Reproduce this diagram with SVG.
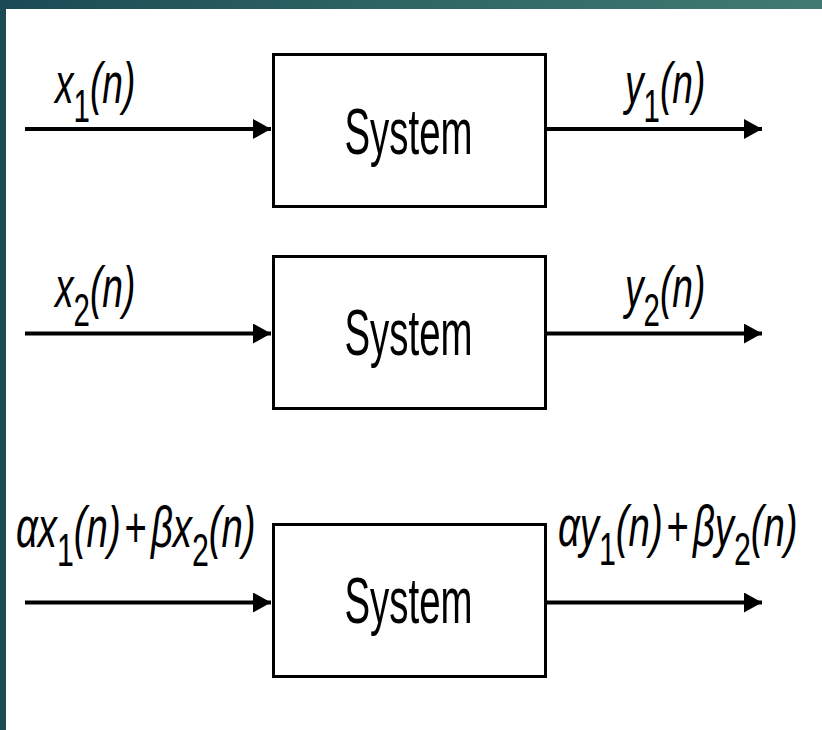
<svg xmlns="http://www.w3.org/2000/svg" width="822" height="730" viewBox="0 0 822 730">
  <defs>
    <linearGradient id="topbar" x1="0" y1="0" x2="1" y2="0">
      <stop offset="0" stop-color="#1b4a55"/>
      <stop offset="0.5" stop-color="#2f6664"/>
      <stop offset="1" stop-color="#3f7b72"/>
    </linearGradient>
    <marker id="arrow" markerUnits="userSpaceOnUse" markerWidth="19" markerHeight="22" refX="18" refY="10" orient="auto">
      <path d="M0,0 L18,10 L0,20 Z" fill="#000"/>
    </marker>
  </defs>
  <style>
    .box { fill: #fff; stroke: #000; stroke-width: 3; }
    .sys { font-family: "Liberation Sans", Arial, sans-serif; font-size: 64px; fill: #000; text-anchor: middle; }
    .lbl { font-family: "Liberation Sans", Arial, sans-serif; font-size: 58px; font-style: italic; fill: #000; }
    .sub { font-size: 46px; font-style: normal; }
    .up { font-style: normal; }
    .wire { stroke: #000; stroke-width: 4; fill: none; marker-end: url(#arrow); }
  </style>
  <rect x="0" y="0" width="822" height="730" fill="#fff"/>
  <rect x="0" y="0" width="822" height="9" fill="url(#topbar)"/>
  <rect x="0" y="0" width="6" height="730" fill="#1b4a55"/>

  <g id="connectors">
    <line class="wire" x1="25" y1="129" x2="271" y2="129"/>
    <line class="wire" x1="547" y1="129" x2="762" y2="129"/>
    <line class="wire" x1="25" y1="333.5" x2="271" y2="333.5"/>
    <line class="wire" x1="547" y1="333.5" x2="762" y2="333.5"/>
    <line class="wire" x1="25" y1="602.5" x2="271" y2="602.5"/>
    <line class="wire" x1="547" y1="602.5" x2="762" y2="602.5"/>
  </g>

  <g id="system1">
    <rect class="box" x="273.5" y="54.5" width="272" height="152"/>
    <text class="sys" transform="translate(408.5,154) scale(0.6,1)">System</text>
  </g>
  <g id="system2">
    <rect class="box" x="273.5" y="256.5" width="272" height="152"/>
    <text class="sys" transform="translate(408.5,355) scale(0.6,1)">System</text>
  </g>
  <g id="system3">
    <rect class="box" x="273.5" y="524.5" width="272" height="152"/>
    <text class="sys" transform="translate(408.5,623) scale(0.6,1)">System</text>
  </g>

  <g id="labels">
    <text class="lbl" transform="translate(55,103) scale(0.64,1)">x<tspan class="sub" dy="19">1</tspan><tspan dy="-19">(n)</tspan></text>
    <text class="lbl" transform="translate(625,103) scale(0.64,1)">y<tspan class="sub" dy="19">1</tspan><tspan dy="-19">(n)</tspan></text>
    <text class="lbl" transform="translate(55,307) scale(0.64,1)">x<tspan class="sub" dy="19">2</tspan><tspan dy="-19">(n)</tspan></text>
    <text class="lbl" transform="translate(625,307) scale(0.64,1)">y<tspan class="sub" dy="19">2</tspan><tspan dy="-19">(n)</tspan></text>
    <text class="lbl" transform="translate(16,547) scale(0.66,1)">αx<tspan class="sub" dy="19">1</tspan><tspan dy="-19">(n)</tspan><tspan class="up" dx="6">+</tspan><tspan dx="6">βx</tspan><tspan class="sub" dy="19">2</tspan><tspan dy="-19">(n)</tspan></text>
    <text class="lbl" transform="translate(558,546) scale(0.66,1)">αy<tspan class="sub" dy="19">1</tspan><tspan dy="-19">(n)</tspan><tspan class="up" dx="6">+</tspan><tspan dx="6">βy</tspan><tspan class="sub" dy="19">2</tspan><tspan dy="-19">(n)</tspan></text>
  </g>
</svg>
